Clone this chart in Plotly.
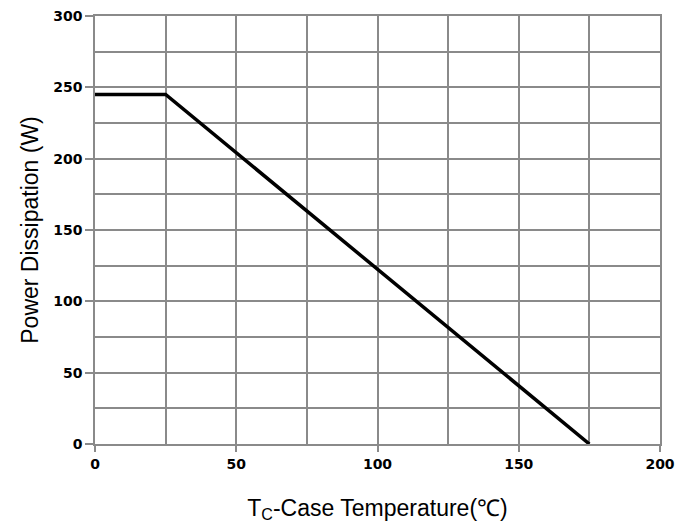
import plotly.graph_objects as go

temp_c = [0, 25, 175]
power_w = [245, 245, 0]
x_ticks = [0, 50, 100, 150, 200]
y_ticks = [0, 50, 100, 150, 200, 250, 300]

grid = "#8a8a8a"
tick_font = dict(size=14, weight="bold", family="DejaVu Sans, Verdana, sans-serif", color="black")
fig = go.Figure()
fig.add_trace(go.Scatter(x=temp_c, y=power_w, mode="lines",
                         line=dict(color="black", width=3.5), showlegend=False))

fig.update_layout(
    width=696, height=530,
    margin=dict(l=87, r=44, t=8, b=94),
    plot_bgcolor="white", paper_bgcolor="white",
    font=dict(family="Liberation Sans, Arial, sans-serif", color="black"),
)
fig.update_xaxes(
    range=[0, 200], tickvals=x_ticks, ticktext=[str(v) for v in x_ticks],
    showgrid=True, gridcolor=grid, gridwidth=1.5,
    minor=dict(dtick=25, tick0=0, showgrid=True, gridcolor=grid, gridwidth=1.5),
    ticks="outside", ticklen=6, tickcolor=grid, tickwidth=1.5,
    tickfont=tick_font, automargin=False, ticklabeloverflow="allow",
    zeroline=False, showline=True, mirror=True, linecolor=grid, linewidth=1.5,
    title=dict(text="T<sub>C</sub>-Case Temperature(℃)", font=dict(size=23), standoff=29),
)
fig.update_yaxes(
    range=[0, 300], tickvals=y_ticks, ticktext=[str(v) for v in y_ticks],
    showgrid=True, gridcolor=grid, gridwidth=1.5,
    minor=dict(dtick=25, tick0=0, showgrid=True, gridcolor=grid, gridwidth=1.5),
    ticks="outside", ticklen=8, tickcolor=grid, tickwidth=1.5,
    tickfont=tick_font, automargin=False, ticklabeloverflow="allow",
    zeroline=False, showline=True, mirror=True, linecolor=grid, linewidth=1.5,
    title=dict(text="Power Dissipation (W)", font=dict(size=23), standoff=8),
)
fig.write_html("out.html")
